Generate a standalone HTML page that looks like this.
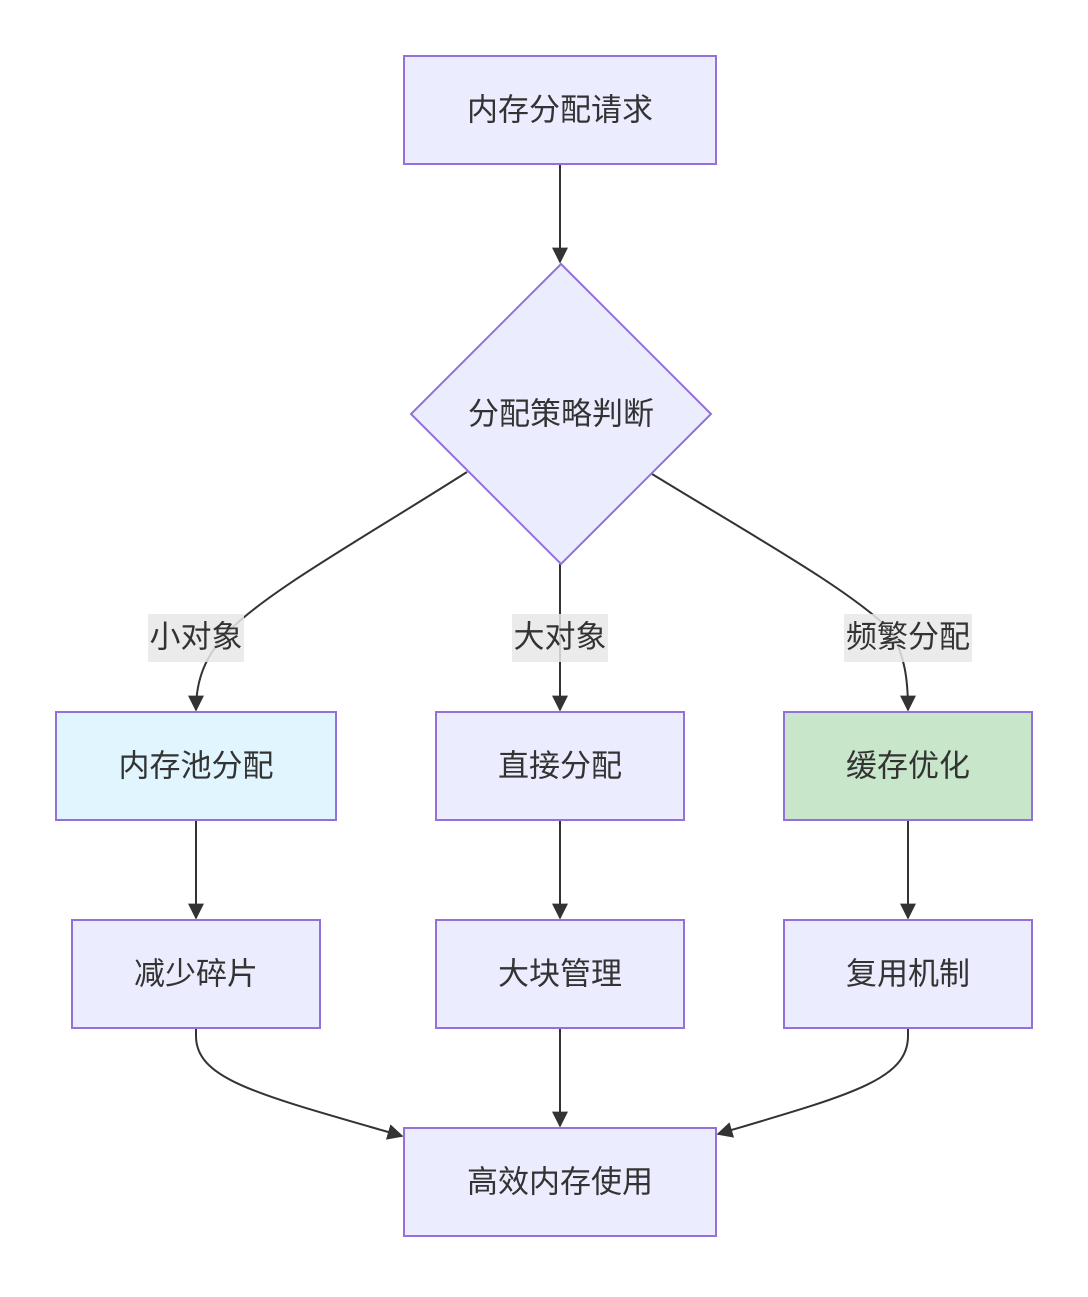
<!DOCTYPE html>
<html><head><meta charset="utf-8"><style>
html,body{margin:0;padding:0;background:#fff;}
svg text{font-family:"Liberation Sans","Noto Sans CJK SC",sans-serif;font-size:31px;fill:#333;text-anchor:middle;dominant-baseline:central;}
</style></head><body>
<svg width="1088" height="1292" viewBox="0 0 1088 1292" xmlns="http://www.w3.org/2000/svg">
<defs><marker id="a" viewBox="0 0 10 10" refX="9" refY="5" markerWidth="8" markerHeight="8" markerUnits="userSpaceOnUse" orient="auto"><path d="M0,0L10,5L0,10z" fill="#333"/></marker>
<marker id="b" viewBox="0 0 10 10" refX="9" refY="5" markerWidth="16" markerHeight="16" markerUnits="userSpaceOnUse" orient="auto"><path d="M0,0L10,5L0,10z" fill="#333"/></marker></defs>
<g fill="none" stroke="#333" stroke-width="2">
<path d="M560,164V262" marker-end="url(#b)"/>
<path d="M467,472C360,540 270,590 230,630C205,655 196,680 196,710" marker-end="url(#b)"/>
<path d="M560,564V710" marker-end="url(#b)"/>
<path d="M652,474C760,540 850,590 890,630C905,655 908,680 908,710" marker-end="url(#b)"/>
<path d="M196,820V918" marker-end="url(#b)"/>
<path d="M560,820V918" marker-end="url(#b)"/>
<path d="M908,820V918" marker-end="url(#b)"/>
<path d="M560,1028V1126" marker-end="url(#b)"/>
<path d="M196,1028V1036C196,1080 260,1095 402,1136" marker-end="url(#b)"/>
<path d="M908,1028V1036C908,1080 850,1095 718,1134" marker-end="url(#b)"/>
</g>
<g stroke="#9370db" stroke-width="2">
<rect x="404" y="56" width="312" height="108" fill="#ececff"/>
<path d="M561,264L711,414L561,564L411,414Z" fill="#ececff"/>
<rect x="56" y="712" width="280" height="108" fill="#e1f5fe"/>
<rect x="436" y="712" width="248" height="108" fill="#ececff"/>
<rect x="784" y="712" width="248" height="108" fill="#c8e6c9"/>
<rect x="72" y="920" width="248" height="108" fill="#ececff"/>
<rect x="436" y="920" width="248" height="108" fill="#ececff"/>
<rect x="784" y="920" width="248" height="108" fill="#ececff"/>
<rect x="404" y="1128" width="312" height="108" fill="#ececff"/>
</g>
<g fill="#e8e8e8" fill-opacity="0.85">
<rect x="148" y="614" width="96" height="48"/>
<rect x="512" y="614" width="96" height="48"/>
<rect x="844" y="614" width="128" height="48"/>
</g>
<text x="560" y="110">内存分配请求</text>
<text x="561" y="414">分配策略判断</text>
<text x="196" y="637">小对象</text>
<text x="560" y="637">大对象</text>
<text x="908" y="637">频繁分配</text>
<text x="196" y="766">内存池分配</text>
<text x="560" y="766">直接分配</text>
<text x="908" y="766">缓存优化</text>
<text x="196" y="974">减少碎片</text>
<text x="560" y="974">大块管理</text>
<text x="908" y="974">复用机制</text>
<text x="560" y="1182">高效内存使用</text>
</svg>
</body></html>
